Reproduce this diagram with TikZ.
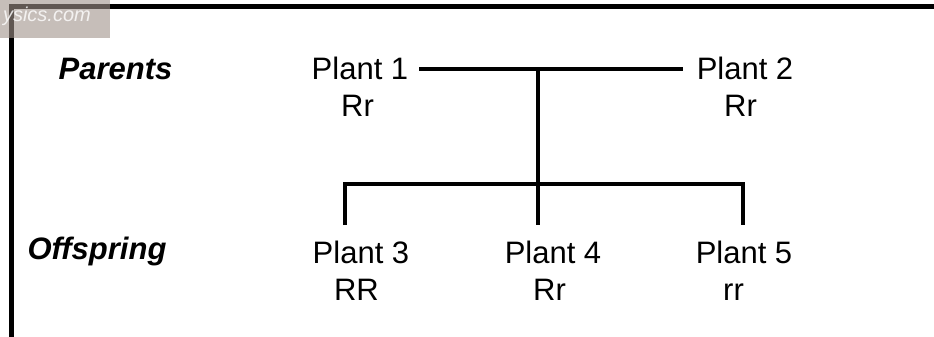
\documentclass[tikz,border=0pt]{standalone}
\usepackage{fontspec}
\setmainfont{Liberation Sans}
\definecolor{wmbox}{RGB}{160,146,138}
\begin{document}
\begin{tikzpicture}[x=1pt,y=-1pt,
  txt/.style={inner sep=0pt,anchor=base,font=\fontsize{31}{37}\selectfont},
  tag/.style={txt,font=\fontsize{31}{37}\selectfont\bfseries\itshape},
  link/.style={line width=4pt,line join=miter,line cap=butt},
  frame/.style={line width=5pt,line join=miter}]
\useasboundingbox (0,0) rectangle (934,337);

% outer frame: top rule and left rule
\draw[frame] (11,337) -- (11,6.5) -- (934,6.5);

% row labels
\node[tag] (parents) at (115.5,79) {Parents};
\node[tag] (offspring) at (97,259) {Offspring};

% parents
\node[txt] (p1) at (360,79) {Plant 1};
\node[txt] (g1) at (357.5,116) {Rr};
\node[txt] (p2) at (745,79) {Plant 2};
\node[txt] (g2) at (740.5,116) {Rr};

% offspring
\node[txt] (p3) at (361,263) {Plant 3};
\node[txt] (g3) at (356.5,300) {RR};
\node[txt] (p4) at (553,263) {Plant 4};
\node[txt] (g4) at (549.5,300) {Rr};
\node[txt] (p5) at (744,263) {Plant 5};
\node[txt] (g5) at (733.5,300) {rr};

% junction points of the pedigree lines
\coordinate (mate) at (538,69.5);
\coordinate (fork) at (538,183.5);
\coordinate (d3) at (344.5,225);
\coordinate (d4) at (538,225);
\coordinate (d5) at (743,225);

\draw[link] ([xshift=11pt]p1.east |- mate) -- ([xshift=-13.5pt]p2.west |- mate);
\draw[link] (mate) -- (fork);
\draw[link] (d3) |- (fork) -| (d5);
\draw[link] (fork) -- (d4);

% translucent site stamp in the corner
\begin{scope}
  \clip (0,0) rectangle (110,38);
  \fill[wmbox,opacity=0.6] (0,0) rectangle (110,38);
  \node[inner sep=0pt,anchor=base east,text=white,opacity=0.8,
        font=\fontsize{20}{22}\selectfont\itshape] (stamp) at (91,22) {ysics.com};
\end{scope}
\end{tikzpicture}
\end{document}
